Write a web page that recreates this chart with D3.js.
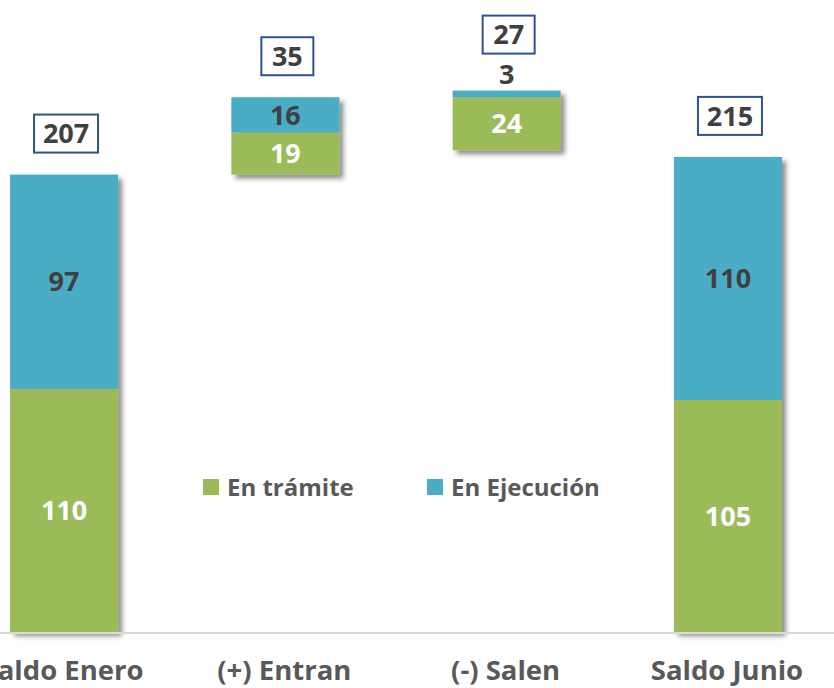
<!DOCTYPE html>
<html>
<head>
<meta charset="utf-8">
<script src="https://cdn.jsdelivr.net/npm/d3@7"></script>
<style>
  body { margin: 0; background: #fff; }
  svg { display: block; font-family: "Open Sans", Lato, sans-serif; }
</style>
</head>
<body>
<div id="chart"></div>
<script>
// data
const categories = ["Saldo Enero", "(+) Entran", "(-) Salen", "Saldo Junio"];
const baseValues = [0, 207, 218, 0];      // invisible offset of the floating bars
const enTramite = [110, 19, 24, 105];
const enEjecucion = [97, 16, 3, 110];
const totals = [207, 35, 27, 215];
const seriesNames = ["En trámite", "En Ejecución"];
const colors = ["#9BBB59", "#4BACC6"];

const width = 834, height = 688;

const svg = d3.select("#chart")
    .append("svg")
    .attr("width", width)
    .attr("height", height);

// drop shadow like the office chart
const defs = svg.append("defs");
defs.append("filter")
    .attr("id", "shadow")
    .attr("x", "-10%").attr("y", "-10%")
    .attr("width", "130%").attr("height", "130%")
    .append("feDropShadow")
    .attr("dx", 4).attr("dy", 4)
    .attr("stdDeviation", 2.5)
    .attr("flood-color", "#000")
    .attr("flood-opacity", 0.45);

const x = d3.scaleBand()
    .domain(categories)
    .range([-46.6, 838.6])
    .paddingInner(0.512)
    .paddingOuter(0.256);

const y = d3.scaleLinear()
    .domain([0, 286])
    .range([632, 0]);

// build stacked rows
const rows = categories.map((c, i) => ({
    cat: c,
    segs: [
        { s: 0, y0: baseValues[i], y1: baseValues[i] + enTramite[i], v: enTramite[i] },
        { s: 1, y0: baseValues[i] + enTramite[i], y1: baseValues[i] + enTramite[i] + enEjecucion[i], v: enEjecucion[i] }
    ],
    total: totals[i],
    top: baseValues[i] + enTramite[i] + enEjecucion[i]
}));

// bars
const barG = svg.selectAll("g.bar")
    .data(rows)
    .enter()
    .append("g")
    .attr("class", "bar")
    .attr("filter", "url(#shadow)");

barG.selectAll("rect")
    .data(d => d.segs.map(s => Object.assign({ cat: d.cat }, s)))
    .enter()
    .append("rect")
    .attr("x", d => x(d.cat))
    .attr("y", d => y(d.y1))
    .attr("width", x.bandwidth())
    .attr("height", d => y(d.y0) - y(d.y1))
    .attr("fill", d => colors[d.s]);

// axis line
svg.append("line")
    .attr("x1", 0).attr("x2", width)
    .attr("y1", y(0) + 1).attr("y2", y(0) + 1)
    .attr("stroke", "#d9d9d9")
    .attr("stroke-width", 2);

// segment labels
rows.forEach(r => {
    r.segs.forEach(s => {
        const h = y(s.y0) - y(s.y1);
        const small = h < 20;
        svg.append("text")
            .attr("x", x(r.cat) + x.bandwidth() / 2)
            .attr("y", small ? y(s.y1) - 16 : (y(s.y0) + y(s.y1)) / 2)
            .attr("dy", "0.36em")
            .attr("text-anchor", "middle")
            .attr("font-size", 27)
            .attr("font-weight", "bold")
            .attr("fill", s.s === 0 ? "#fff" : "#404040")
            .text(s.v);
    });
});

// total boxes
rows.forEach(r => {
    const cx = x(r.cat) + x.bandwidth() / 2 + 2;
    const small = (y(r.segs[1].y0) - y(r.segs[1].y1)) < 20;
    const cy = y(r.top) - (small ? 56 : 41);
    const w = String(r.total).length > 2 ? 64 : 52;
    svg.append("rect")
        .attr("x", cx - w / 2)
        .attr("y", cy - 19)
        .attr("width", w)
        .attr("height", 38)
        .attr("fill", "#fff")
        .attr("stroke", "#2F528F")
        .attr("stroke-width", 2);
    svg.append("text")
        .attr("x", cx)
        .attr("y", cy)
        .attr("dy", "0.36em")
        .attr("text-anchor", "middle")
        .attr("font-size", 27)
        .attr("font-weight", "bold")
        .attr("fill", "#404040")
        .text(r.total);
});

// category labels
svg.selectAll("text.cat")
    .data(categories)
    .enter()
    .append("text")
    .attr("class", "cat")
    .attr("x", d => x(d) + x.bandwidth() / 2 - 1)
    .attr("y", 680)
    .attr("text-anchor", "middle")
    .attr("font-size", 27.5)
    .attr("font-weight", "bold")
    .attr("fill", "#595959")
    .text(d => d);

// legend
const legendX = [203, 427];
const leg = svg.selectAll("g.legend")
    .data(seriesNames)
    .enter()
    .append("g")
    .attr("class", "legend")
    .attr("transform", (d, i) => "translate(" + legendX[i] + ",479)");
leg.append("rect")
    .attr("width", 16).attr("height", 16)
    .attr("fill", (d, i) => colors[i]);
leg.append("text")
    .attr("x", 24)
    .attr("y", 8)
    .attr("dy", "0.36em")
    .attr("font-size", 24)
    .attr("font-weight", "bold")
    .attr("fill", "#595959")
    .text(d => d);
</script>
</body>
</html>
